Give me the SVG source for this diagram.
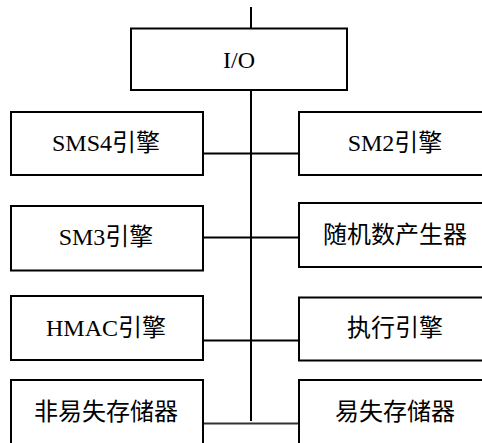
<svg xmlns="http://www.w3.org/2000/svg" width="482" height="443" viewBox="0 0 482 443">
<style>
.box{fill:#fff;stroke:#000;stroke-width:2}
.t{font-family:"Liberation Serif","Noto Sans CJK SC",serif;font-size:24px;fill:#000;text-anchor:middle}
.c{stroke:#000;stroke-width:2;fill:none}
</style>
<rect width="482" height="443" fill="#fff"/>
<g id="connectors">
<line class="c" x1="251" y1="7" x2="251" y2="29"/>
<line class="c" x1="251" y1="90" x2="251" y2="421"/>
<line class="c" x1="203" y1="153.5" x2="299" y2="153.5"/>
<line class="c" x1="203" y1="237.5" x2="299" y2="237.5"/>
<line class="c" x1="203" y1="340.5" x2="299" y2="340.5"/>
<line class="c" x1="203" y1="423.5" x2="299" y2="423.5" style="stroke:#333"/>
</g>
<g id="io"><rect class="box" x="131" y="28.5" width="216" height="61.5"/><text class="t" x="239" y="68">I/O</text></g>
<g id="sms4"><rect class="box" x="11" y="112" width="192" height="63"/><text class="t" x="106" y="151">SMS4引擎</text></g>
<g id="sm2"><rect class="box" x="299" y="112" width="192" height="63"/><text class="t" x="395" y="151">SM2引擎</text></g>
<g id="sm3"><rect class="box" x="11" y="206" width="192" height="64.5"/><text class="t" x="106" y="245">SM3引擎</text></g>
<g id="rng"><rect class="box" x="299" y="203" width="192" height="64"/><text class="t" x="395" y="243">随机数产生器</text></g>
<g id="hmac"><rect class="box" x="11" y="296" width="192" height="64"/><text class="t" x="106" y="336">HMAC引擎</text></g>
<g id="exec"><rect class="box" x="299" y="297.5" width="192" height="63"/><text class="t" x="395" y="336">执行引擎</text></g>
<g id="nvm"><rect class="box" x="11" y="380" width="192" height="70"/><text class="t" x="106" y="420">非易失存储器</text></g>
<g id="vm"><rect class="box" x="299" y="380" width="192" height="70"/><text class="t" x="395" y="420">易失存储器</text></g>
</svg>
